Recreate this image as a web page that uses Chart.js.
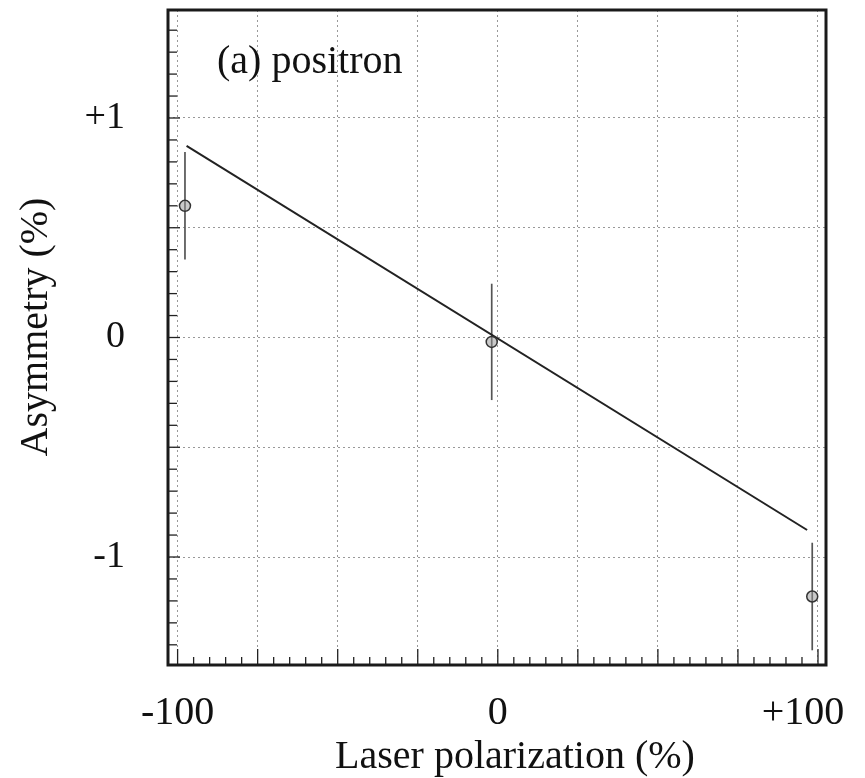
<!DOCTYPE html>
<html>
<head>
<meta charset="utf-8">
<script src="https://cdn.jsdelivr.net/npm/chart.js@4.4.0/dist/chart.umd.min.js"></script>
<style>
html, body { margin: 0; padding: 0; background: #fff; }
#wrap { width: 865px; height: 778px; }
</style>
</head>
<body>
<div id="wrap"><canvas id="asymChart" width="865" height="778"></canvas></div>
<script>
// punti misurati (polarizzazione laser %, asimmetria %, errore)
var polarizzazione = [-97.7, -1.9, 98.2];
var asimmetria = [0.60, -0.02, -1.18];
var errori = [0.245, 0.265, 0.245];

// retta di fit
var fitX = [-97.2, 96.6];
var fitY = [0.873, -0.877];

// griglia ed etichette
var xGriglia = [-100, -75, -50, -25, 0, 25, 50, 75, 100];
var xEtichette = { '-100': '-100', '0': '0', '100': '+100   ' }; // spazi: sposta un po' a sinistra
var yGriglia = [-1, -0.5, 0, 0.5, 1];
var yEtichette = { '-1': '-1', '0': '0', '1': '+1' };

var font = '"Liberation Serif", "Times New Roman", serif';

var puntiDati = polarizzazione.map(function (x, i) {
    return { x: x, y: asimmetria[i] };
});
var rettaDati = fitX.map(function (x, i) {
    return { x: x, y: fitY[i] };
});

var cornice = {
    id: 'cornice',
    beforeDatasetsDraw: function (chart) {
        var ctx = chart.ctx;
        var sx = chart.scales.x, sy = chart.scales.y;
        ctx.save();
        ctx.strokeStyle = '#555';
        ctx.lineWidth = 1.7;
        for (var i = 0; i < polarizzazione.length; i++) {
            var px = sx.getPixelForValue(polarizzazione[i]);
            var top = sy.getPixelForValue(asimmetria[i] + errori[i]);
            var bot = sy.getPixelForValue(asimmetria[i] - errori[i]);
            ctx.beginPath();
            ctx.moveTo(px, Math.max(top, chart.chartArea.top));
            ctx.lineTo(px, Math.min(bot, chart.chartArea.bottom));
            ctx.stroke();
        }
        ctx.restore();
    },
    afterDraw: function (chart) {
        var ctx = chart.ctx;
        var a = chart.chartArea;
        var sx = chart.scales.x, sy = chart.scales.y;
        ctx.save();
        ctx.strokeStyle = '#222';
        ctx.lineWidth = 1.3;
        // tacche asse x (verso l'interno)
        for (var v = -100; v <= 100; v += 5) {
            var px = sx.getPixelForValue(v);
            var len = (v % 25 === 0) ? 16 : 8;
            ctx.beginPath();
            ctx.moveTo(px, a.bottom);
            ctx.lineTo(px, a.bottom - len);
            ctx.stroke();
        }
        // tacche asse y
        for (var k = -14; k <= 14; k++) {
            var py = sy.getPixelForValue(k / 10);
            var l2 = (k % 5 === 0) ? 12 : 9;
            ctx.beginPath();
            ctx.moveTo(a.left, py);
            ctx.lineTo(a.left + l2, py);
            ctx.stroke();
        }
        // cornice
        ctx.lineWidth = 3;
        ctx.strokeStyle = '#1a1a1a';
        ctx.strokeRect(a.left, a.top, a.right - a.left, a.bottom - a.top);

        // testi
        ctx.fillStyle = '#111';
        ctx.font = '40px ' + font;
        ctx.textAlign = 'left';
        ctx.textBaseline = 'alphabetic';
        ctx.fillText('(a) positron', 217, 73);

        ctx.textAlign = 'center';
        ctx.fillText('Laser polarization (%)', 515, 768);

        ctx.translate(47, 327);
        ctx.rotate(-Math.PI / 2);
        ctx.fillText('Asymmetry (%)', 0, 0);
        ctx.restore();
    }
};

var ctx = document.getElementById('asymChart');
var chart = new Chart(ctx, {
    type: 'scatter',
    data: {
        datasets: [{
            label: 'fit',
            type: 'line',
            data: rettaDati,
            borderColor: '#222',
            borderWidth: 2,
            pointRadius: 0,
            fill: false,
            order: 2
        }, {
            label: 'positron',
            data: puntiDati,
            pointRadius: 5.5,
            pointBackgroundColor: 'rgba(150,150,150,0.5)',
            pointBorderColor: '#333',
            pointBorderWidth: 1.5,
            order: 1
        }]
    },
    options: {
        responsive: false,
        animation: false,
        layout: { padding: { left: 0, top: 10, right: 39, bottom: 0 } },
        plugins: {
            legend: { display: false },
            tooltip: { enabled: false }
        },
        scales: {
            x: {
                type: 'linear',
                min: -103,
                max: 102.5,
                afterBuildTicks: function (scale) {
                    scale.ticks = xGriglia.map(function (v) { return { value: v }; });
                },
                afterFit: function (scale) {
                    scale.height = 113;
                    scale.paddingLeft = 0;
                    scale.paddingRight = 0;
                },
                ticks: {
                    autoSkip: false,
                    maxRotation: 0,
                    padding: 24,
                    color: '#111',
                    font: { family: font, size: 40 },
                    callback: function (v) { return xEtichette[String(v)] || ''; }
                },
                grid: { color: '#999', lineWidth: 1, drawTicks: false },
                border: { display: false, dash: [2, 3] }
            },
            y: {
                type: 'linear',
                min: -1.492,
                max: 1.492,
                afterBuildTicks: function (scale) {
                    scale.ticks = yGriglia.map(function (v) { return { value: v }; });
                },
                afterFit: function (scale) {
                    scale.width = 168;
                    scale.paddingTop = 0;
                    scale.paddingBottom = 0;
                },
                ticks: {
                    autoSkip: false,
                    padding: 43,
                    color: '#111',
                    font: { family: font, size: 38 },
                    callback: function (v) { return yEtichette[String(v)] || ''; }
                },
                grid: { color: '#999', lineWidth: 1, drawTicks: false },
                border: { display: false, dash: [2, 3] }
            }
        }
    },
    plugins: [cornice]
});
</script>
</body>
</html>
